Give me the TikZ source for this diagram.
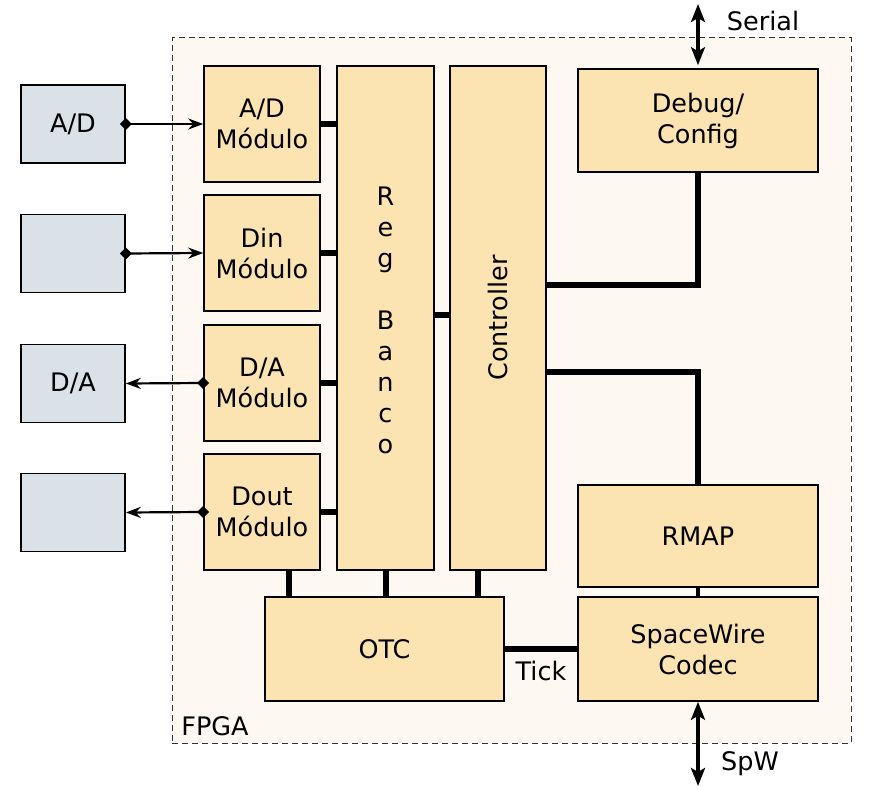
\documentclass[tikz,border=0pt]{standalone}
\usepackage{fontspec}
\setmainfont{DejaVu Sans}
\usetikzlibrary{arrows.meta}
\definecolor{modfill}{RGB}{252,228,178}
\definecolor{extfill}{RGB}{218,225,231}
\definecolor{fpgafill}{RGB}{253,249,242}
\begin{document}
\begin{tikzpicture}[x=1pt,y=-1pt,
    font=\fontsize{25.5}{31}\selectfont,
    modbox/.style={draw,fill=modfill,line width=1.6pt,align=center,inner sep=0pt},
    extbox/.style={draw,fill=extfill,line width=1.6pt,minimum width=104pt,minimum height=78pt,inner sep=0pt},
    fpgabox/.style={draw=black!80,fill=fpgafill,line width=1pt,dash pattern=on 6pt off 4pt},
    bus/.style={line width=6pt},
    sig/.style={line width=2.2pt,shorten <=-6pt,{Diamond[length=12pt,width=12pt]}-{Stealth[length=15pt,width=11pt,inset=5pt]}},
    ext/.style={line width=4.5pt,{Stealth[length=18pt,width=14pt,inset=4pt]}-{Stealth[length=18pt,width=14pt,inset=4pt]}}]
      \useasboundingbox (0,0) rectangle (881,789);
      %
      \node[fpgabox,minimum width=679pt,minimum height=705pt] (fpga) at (511.5,390.5) {};
      \node (fpgalabel) at (215,726) {FPGA};
      %
      \node[extbox] (adext) at (73,124) {A/D};
      \node[extbox] (dinext) at (73,253.5) {};
      \node[extbox] (daext) at (73,383.5) {D/A};
      \node[extbox] (doutext) at (73,512.5) {};
      %
      \node[modbox,minimum width=116pt,minimum height=116pt] (ad) at (262,124) {A/D\\Módulo};
      \node[modbox,minimum width=116pt,minimum height=116pt] (din) at (262,253) {Din\\Módulo};
      \node[modbox,minimum width=116pt,minimum height=116pt] (da) at (262,383) {D/A\\Módulo};
      \node[modbox,minimum width=116pt,minimum height=116pt] (dout) at (262,512) {Dout\\Módulo};
      %
      \node[modbox,minimum width=97pt,minimum height=504pt] (regbanco) at (385.5,318) {};
      \node[align=center] (reglabel) at (385.5,320) {R\\e\\g\\ \\B\\a\\n\\c\\o};
      \node[modbox,minimum width=96pt,minimum height=504pt] (ctrl) at (498,318) {};
      \node[rotate=90] (ctrllabel) at (ctrl) {Controller};
      %
      \node[modbox,minimum width=240pt,minimum height=103pt] (debug) at (698,120.5) {Debug/\\Config};
      \node[modbox,minimum width=240pt,minimum height=102pt] (rmap) at (698,536) {RMAP};
      \node[modbox,minimum width=240pt,minimum height=104pt] (spw) at (698,649) {SpaceWire\\Codec};
      \node[modbox,minimum width=239pt,minimum height=104pt] (otc) at (384.5,649) {OTC};
      %
      \draw[sig] (adext.east) -- (ad.west);
      \draw[sig] (dinext.east) -- (din.west);
      \draw[sig] (da.west) -- (daext.east);
      \draw[sig] (dout.west) -- (doutext.east);
      %
      \draw[bus] (ad.east) -- (ad.east -| regbanco.west);
      \draw[bus] (din.east) -- (din.east -| regbanco.west);
      \draw[bus] (da.east) -- (da.east -| regbanco.west);
      \draw[bus] (dout.east) -- (dout.east -| regbanco.west);
      \draw[bus] ([yshift=3pt]regbanco.east) -- ([yshift=3pt]ctrl.west);
      %
      \draw[bus] ([yshift=33pt]ctrl.east) -| (debug.south);
      \draw[bus] ([yshift=-54pt]ctrl.east) -| (rmap.north);
      \draw[line width=4pt] (rmap.south) -- (spw.north);
      %
      \draw[bus] ([xshift=27pt]dout.south) -- ([xshift=27pt]dout.south |- otc.north);
      \draw[bus] (regbanco.south) -- (regbanco.south |- otc.north);
      \draw[bus] ([xshift=-20pt]ctrl.south) -- ([xshift=-20pt]ctrl.south |- otc.north);
      \draw[bus] (otc.east) -- node[below=6pt] {Tick} (spw.west);
      %
      \coordinate (serialend) at (698,4);
      \coordinate (spwend) at (698,786);
      \draw[ext] (serialend) -- ([yshift=3pt]debug.north);
      \draw[ext] (spw.south) -- (spwend);
      \node (seriallabel) at (763,21) {Serial};
      \node (spwlabel) at (750,764) {SpW};
    \end{tikzpicture}
\end{document}
